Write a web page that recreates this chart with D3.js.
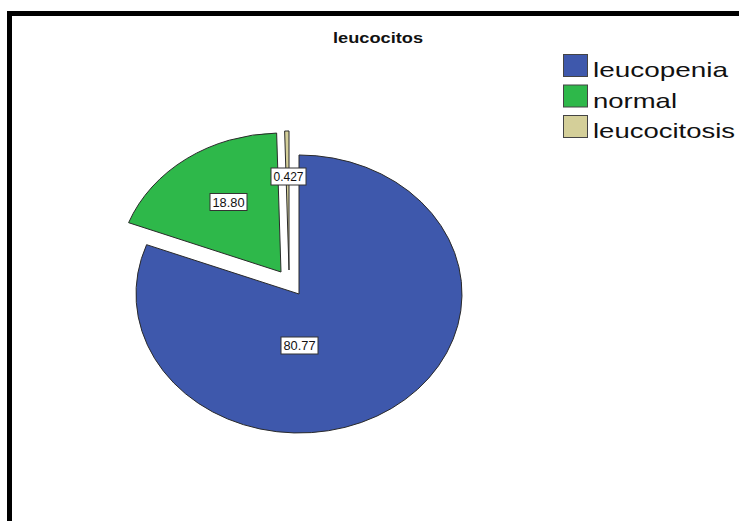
<!DOCTYPE html>
<html>
<head>
<meta charset="utf-8">
<script src="https://cdn.jsdelivr.net/npm/d3@7"></script>
<style>
  html, body { margin: 0; padding: 0; background: #fff; }
  svg { display: block; font-family: "Liberation Sans", Arial, sans-serif; }
</style>
</head>
<body>
<svg id="chart" width="739" height="521"></svg>
<script>
// ---- data ----
const categories = ["leucopenia", "normal", "leucocitosis"];
const values = [80.77, 18.80, 0.427];
const valueLabels = ["80.77", "18.80", "0.427"];
const colors = ["#3e58ac", "#2eb84a", "#d4cf99"];
const titleText = "leucocitos";

// ---- layout / style ----
const W = 739, H = 521;
const cx = 299, cy = 294, rx = 163, ry = 139;
const explode = [[0, 0], [-18, -22], [-10, -24]];
const labelPos = [[299.5, 345.5], [228.5, 202], [288.5, 176.5]];
const labelLen = [32, 32, 30];
const legendLen = [135, 84, 142];

const svg = d3.select("#chart");
svg.append("rect").attr("width", W).attr("height", H).attr("fill", "#fff");

// frame (left and top thick borders)
svg.append("line").attr("x1", 9.5).attr("y1", 11).attr("x2", 9.5).attr("y2", H)
  .attr("stroke", "#000").attr("stroke-width", 5);
svg.append("line").attr("x1", 7).attr("y1", 13.5).attr("x2", W).attr("y2", 13.5)
  .attr("stroke", "#000").attr("stroke-width", 5);

// title
svg.append("text").attr("x", 378).attr("y", 43)
  .attr("text-anchor", "middle")
  .attr("font-weight", "bold").attr("font-size", 15)
  .attr("textLength", 90).attr("lengthAdjust", "spacingAndGlyphs")
  .attr("fill", "#111")
  .text(titleText);

// pie
const pie = d3.pie().sort(null).startAngle(0).endAngle(2 * Math.PI);
const arcs = pie(values);
const arc = d3.arc().innerRadius(0).outerRadius(rx);

const slices = svg.append("g").selectAll("g.slice")
  .data(arcs).join("g")
  .attr("class", "slice")
  .attr("transform", (d, i) => `translate(${cx + explode[i][0]},${cy + explode[i][1]}) scale(1,${ry / rx})`);

slices.append("path")
  .attr("d", arc)
  .attr("fill", (d, i) => colors[i])
  .attr("stroke", "#2a2a2a")
  .attr("stroke-width", 1)
  .attr("stroke-linejoin", "miter")
  .attr("vector-effect", "non-scaling-stroke");

// value labels
const lab = svg.append("g").selectAll("g.lab")
  .data(arcs).join("g")
  .attr("class", "lab")
  .attr("transform", (d, i) => `translate(${labelPos[i][0]},${labelPos[i][1]})`);

lab.append("rect")
  .attr("x", (d, i) => -labelLen[i] / 2 - 2.5)
  .attr("y", -8.5)
  .attr("width", (d, i) => labelLen[i] + 5)
  .attr("height", 17)
  .attr("fill", "#fff")
  .attr("stroke", "#333")
  .attr("stroke-width", 1);

lab.append("text")
  .attr("text-anchor", "middle")
  .attr("y", 4.5)
  .attr("font-size", 12.5)
  .attr("textLength", (d, i) => labelLen[i])
  .attr("lengthAdjust", "spacingAndGlyphs")
  .attr("fill", "#111")
  .text((d, i) => valueLabels[i]);

// legend
const leg = svg.append("g").selectAll("g.leg")
  .data(categories).join("g")
  .attr("class", "leg")
  .attr("transform", (d, i) => `translate(563,${54 + i * 30.5})`);

leg.append("rect")
  .attr("x", 0.5).attr("y", 0.5)
  .attr("width", 24).attr("height", 22)
  .attr("fill", (d, i) => colors[i])
  .attr("stroke", "#444").attr("stroke-width", 1);

leg.append("text")
  .attr("x", 30).attr("y", 23)
  .attr("font-size", 21)
  .attr("textLength", (d, i) => legendLen[i])
  .attr("lengthAdjust", "spacingAndGlyphs")
  .attr("fill", "#111")
  .text(d => d);
</script>
</body>
</html>
